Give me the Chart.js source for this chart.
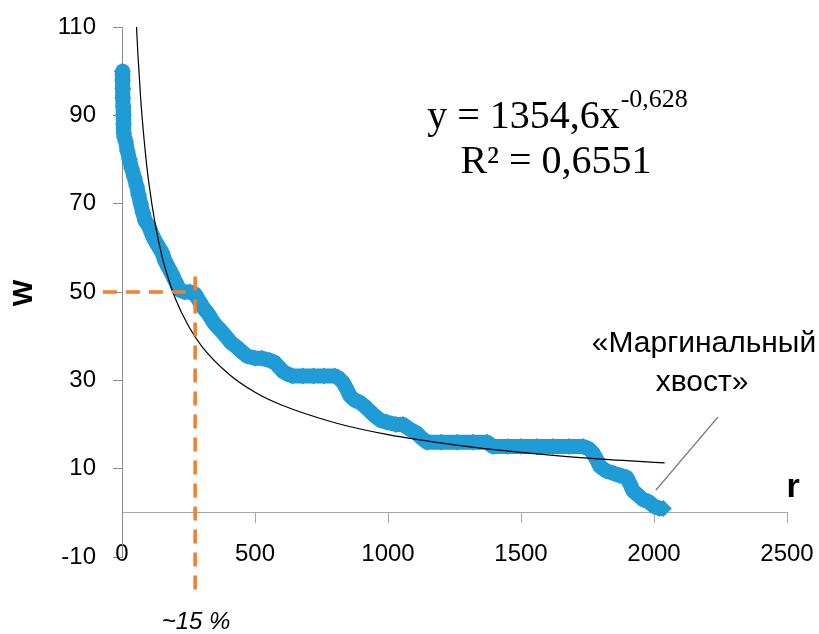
<!DOCTYPE html>
<html>
<head>
<meta charset="utf-8">
<script src="https://cdn.jsdelivr.net/npm/chart.js@4.4.1/dist/chart.umd.min.js"></script>
<style>
  html, body { margin: 0; padding: 0; background: #fff; }
</style>
</head>
<body>
<canvas id="chart" width="819" height="634"></canvas>
<script>
// rank r and weight W of the observed points
const R_VALUES = [1, 2, 3, 3, 4, 5, 6, 7, 9, 14, 20, 28, 36, 46, 55, 62, 70, 78, 88, 100,
  113, 125, 140, 150, 162, 175, 188, 200, 215, 235, 255, 275, 290, 305, 325, 345, 368, 390, 410, 432,
  450, 470, 500, 526, 556, 575, 590, 605, 620, 640, 680, 720, 760, 800, 815, 831, 845, 857, 875, 895,
  915, 932, 950, 970, 996, 1030, 1056, 1080, 1109, 1125, 1147, 1200, 1260, 1320, 1372, 1395, 1450, 1500, 1560, 1620,
  1680, 1733, 1755, 1771, 1785, 1797, 1820, 1846, 1870, 1898, 1910, 1921, 1940, 1959, 1980, 2000, 2020, 2035];
const W_VALUES = [100, 98, 96, 94, 92, 90, 88, 86, 85, 84, 82, 80, 78, 76, 74, 72, 70, 68, 66, 65,
  63, 61.5, 60, 59, 57, 55.5, 54, 52.5, 50.5, 50, 50, 49.5, 48, 46.5, 45, 43, 41.5, 40, 38.5, 37.5,
  36.5, 35.5, 35, 35, 34.5, 34, 33, 32, 31.5, 31, 31, 31, 31, 31, 30.5, 29.5, 28, 26.5, 25.5, 25,
  24, 23, 22, 21, 20.5, 20, 20, 19, 18, 17, 16, 16, 16, 16, 16, 15, 15, 15, 15, 15,
  15, 15, 14.5, 13.5, 12, 10.5, 9.5, 9, 8.5, 8, 6.5, 5, 4, 3, 2.5, 1.5, 1, 1];

// power trendline as drawn (y = 1354,6x^-0,628)
const TREND_R = [54, 60, 70, 80, 90, 100, 125, 150, 175, 200, 250, 300, 400, 500, 600, 800, 1000, 1250, 1500, 1750, 2040];
const TREND_W = [110.7, 103.6, 94.0, 86.5, 80.3, 75.1, 65.3, 58.2, 52.9, 48.6, 42.3, 37.7, 31.5, 27.3, 24.4, 20.4, 17.7, 15.4, 13.7, 12.4, 11.3];

// orange guides: W = 50 and r ~ 15 %
const GUIDE_H_R = [-72, 275];
const GUIDE_H_W = [50, 50];
const GUIDE_V_R = [275, 275];
const GUIDE_V_W = [53.5, -18];

const X_MIN = 0, X_MAX = 2500, X_STEP = 500;
const Y_MIN = -10, Y_MAX = 110, Y_STEP = 20;

const BLUE = '#1f9bd6';
const ORANGE = '#f07f2e';

const zip = (xs, ys) => xs.map((x, i) => ({ x, y: ys[i] }));

const textPlugin = {
  id: 'texts',
  afterDraw(chart) {
    const c = chart.ctx;
    c.save();
    c.fillStyle = '#000';
    c.textAlign = 'center';
    c.textBaseline = 'middle';

    // equation
    c.font = '40px "Liberation Serif", "Times New Roman", serif';
    const main = 'y = 1354,6x';
    const sup = '-0,628';
    const mw = c.measureText(main).width;
    c.font = '26px "Liberation Serif", "Times New Roman", serif';
    const sw = c.measureText(sup).width;
    const x0 = 557 - (mw + sw) / 2;
    c.textAlign = 'left';
    c.font = '40px "Liberation Serif", "Times New Roman", serif';
    c.fillText(main, x0, 117);
    c.font = '26px "Liberation Serif", "Times New Roman", serif';
    c.fillText(sup, x0 + mw + 1, 100);
    c.textAlign = 'center';
    c.font = '40px "Liberation Serif", "Times New Roman", serif';
    c.fillText('R² = 0,6551', 556, 162);

    // axis titles
    c.font = 'bold 34px "Liberation Sans", Arial, sans-serif';
    c.fillText('r', 793, 488);
    c.save();
    c.translate(24, 293);
    c.rotate(-Math.PI / 2);
    c.font = 'bold 28px "Liberation Sans", Arial, sans-serif';
    c.fillText('W', 0, 0);
    c.restore();

    c.font = 'italic 24px "Liberation Sans", Arial, sans-serif';
    c.fillText('~15 %', 196, 622);

    // callout
    c.font = '30px "Liberation Sans", Arial, sans-serif';
    c.fillText('«Маргинальный', 704, 344);
    c.fillText('хвост»', 702, 383);
    c.strokeStyle = '#7f7f7f';
    c.lineWidth = 1.3;
    c.beginPath();
    c.moveTo(718, 417);
    c.lineTo(656, 490);
    c.stroke();
    c.restore();
  }
};

new Chart(document.getElementById('chart'), {
  type: 'scatter',
  data: {
    datasets: [
      {
        data: zip(GUIDE_H_R, GUIDE_H_W),
        showLine: true,
        borderColor: ORANGE,
        borderWidth: 3.5,
        borderDash: [14, 9],
        pointRadius: 0,
        clip: false,
        order: 0
      },
      {
        data: zip(GUIDE_V_R, GUIDE_V_W),
        showLine: true,
        borderColor: ORANGE,
        borderWidth: 3.5,
        borderDash: [14, 9],
        pointRadius: 0,
        clip: false,
        order: 0
      },
      {
        data: zip(TREND_R, TREND_W),
        showLine: true,
        borderColor: '#000',
        borderWidth: 1.2,
        pointRadius: 0,
        cubicInterpolationMode: 'monotone',
        order: 1
      },
      {
        data: zip(R_VALUES, W_VALUES),
        showLine: true,
        borderColor: BLUE,
        borderWidth: 15,
        borderJoinStyle: 'round',
        pointStyle: 'rectRot',
        pointRadius: 8.5,
        pointBackgroundColor: BLUE,
        pointBorderWidth: 0,
        clip: false,
        order: 2
      }
    ]
  },
  options: {
    responsive: false,
    animation: false,
    layout: { autoPadding: false, padding: { left: 0, right: 32, top: 27, bottom: 77 } },
    plugins: { legend: { display: false }, tooltip: { enabled: false } },
    scales: {
      x: {
        type: 'linear',
        position: { y: 0 },
        min: X_MIN, max: X_MAX,
        ticks: {
          stepSize: X_STEP,
          padding: 17,
          color: '#000',
          font: { family: '"Liberation Sans", Arial, sans-serif', size: 24 },
          maxRotation: 0,
          callback: v => String(v)
        },
        grid: { drawOnChartArea: false, drawTicks: true, tickLength: 10, color: '#a6a6a6' },
        border: { color: '#a6a6a6', width: 1 },
        afterFit(scale) { scale.paddingLeft = 0; scale.paddingRight = 0; }
      },
      y: {
        type: 'linear',
        min: Y_MIN, max: Y_MAX,
        ticks: {
          stepSize: Y_STEP,
          padding: 17,
          color: '#000',
          font: { family: '"Liberation Sans", Arial, sans-serif', size: 24 },
          callback: v => String(v)
        },
        grid: { drawOnChartArea: false, drawTicks: true, tickLength: 9, color: '#8c8c8c' },
        border: { color: '#8c8c8c', width: 1 },
        afterFit(scale) { scale.width = 122; scale.paddingTop = 0; scale.paddingBottom = 0; }
      }
    }
  },
  plugins: [textPlugin]
});
</script>
</body>
</html>
